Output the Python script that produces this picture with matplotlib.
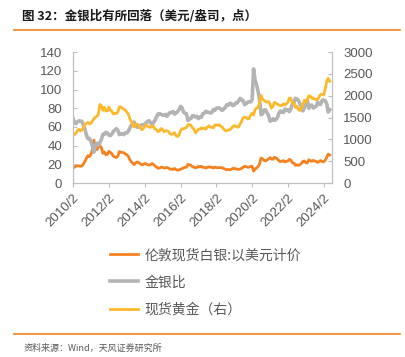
import matplotlib.pyplot as plt
import matplotlib as mpl
import matplotlib.dates as mdates
import pandas as pd

plt.rcParams["font.family"] = ["Liberation Sans", "Noto Sans CJK SC", "DejaVu Sans"]
cjk = ["Noto Sans CJK SC", "DejaVu Sans"]

# monthly readings, 2010/2 .. 2024/6
silver = [
    15.9, 17.1, 18.1, 18.4, 18.5, 18.0, 18.4, 20.6, 23.3, 26.7, 29.3,
    28.4, 30.7, 35.8, 46.0, 37.1, 35.8, 38.8, 40.3, 38.0, 31.9, 33.4, 30.4,
    30.9, 34.0, 32.9, 31.6, 28.7, 28.1, 27.4, 28.7, 33.7, 33.1, 32.7, 32.5,
    31.2, 30.3, 28.8, 25.4, 22.9, 21.4, 19.7, 21.8, 22.6, 21.9, 20.8, 19.6,
    19.9, 20.8, 20.7, 19.7, 19.3, 19.9, 21.0, 19.9, 18.4, 17.2, 15.9, 16.2,
    17.0, 16.9, 16.2, 16.3, 16.8, 16.0, 15.0, 14.8, 14.7, 15.7, 14.5, 14.0,
    14.0, 15.0, 15.4, 16.3, 16.9, 17.2, 20.0, 19.6, 19.2, 17.6, 17.2, 16.3,
    16.7, 17.9, 17.4, 18.0, 16.8, 16.9, 16.1, 16.9, 17.4, 17.1, 17.0, 16.1,
    17.1, 16.6, 16.5, 16.6, 16.5, 16.5, 15.6, 14.9, 14.3, 14.6, 14.3, 14.7,
    15.6, 15.8, 15.2, 15.0, 14.6, 15.0, 15.9, 17.0, 18.0, 17.6, 17.0, 17.0,
    18.0, 17.9, 12.8, 15.0, 16.3, 17.7, 20.6, 26.9, 25.9, 24.3, 23.8, 24.8,
    25.9, 27.3, 25.6, 25.6, 27.6, 27.0, 25.7, 23.9, 23.0, 23.4, 24.1, 22.6,
    23.4, 23.6, 25.5, 24.4, 21.8, 21.5, 19.1, 19.6, 19.0, 19.6, 21.1, 23.3,
    23.6, 21.9, 21.5, 25.0, 24.0, 23.3, 24.3, 23.6, 23.3, 22.1, 23.5, 24.1,
    22.9, 22.8, 24.5, 27.5, 31.0, 30.0,
]
ratio = [
    68.9, 65.2, 63.5, 65.5, 66.6, 66.3, 66.0, 61.7, 57.6, 51.3, 47.5,
    47.7, 44.7, 39.8, 33.0, 40.7, 42.7, 40.5, 43.6, 46.6, 52.2, 52.1, 54.3,
    53.6, 51.2, 50.8, 52.2, 55.2, 56.8, 58.2, 56.7, 51.8, 52.8, 52.6, 51.8,
    53.6, 53.7, 55.3, 58.5, 61.7, 62.8, 65.3, 61.8, 59.7, 60.1, 61.3, 62.3,
    62.5, 62.5, 64.5, 65.9, 66.7, 64.3, 62.4, 65.1, 67.3, 71.0, 74.0, 74.1,
    73.6, 72.6, 72.8, 73.5, 71.4, 73.8, 75.4, 75.5, 76.5, 73.7, 74.9, 76.3,
    78.4, 82.0, 80.9, 76.2, 74.6, 74.2, 66.9, 68.4, 69.1, 72.0, 71.9, 70.7,
    71.4, 68.9, 70.7, 70.4, 74.2, 74.6, 76.8, 75.9, 75.6, 74.9, 75.4, 78.6,
    77.8, 80.2, 80.3, 80.4, 79.0, 77.7, 79.4, 80.7, 83.8, 83.2, 85.4, 85.0,
    82.8, 83.5, 85.6, 85.7, 87.9, 90.6, 88.9, 88.2, 83.9, 84.9, 86.5, 87.1,
    86.7, 89.2, 122.0, 110.0, 105.3, 97.9, 89.7, 73.2, 74.2, 78.2, 78.4, 74.9,
    72.1, 66.2, 67.1, 68.8, 67.0, 67.9, 70.3, 74.7, 77.2, 75.9, 75.5, 79.2,
    77.6, 78.6, 76.4, 79.4, 84.8, 85.4, 90.7, 90.1, 88.5, 84.9, 81.8, 77.2,
    80.4, 84.7, 88.9, 80.0, 83.0, 83.4, 80.3, 81.3, 82.3, 86.7, 84.5, 84.2,
    88.8, 88.7, 88.2, 84.7, 76.0, 78.5,
]
gold = [
    1095, 1115, 1150, 1205, 1232, 1193, 1215, 1271, 1342, 1370, 1391,
    1356, 1372, 1424, 1474, 1510, 1529, 1572, 1800, 1772, 1665, 1739, 1652,
    1656, 1742, 1673, 1650, 1585, 1596, 1594, 1626, 1745, 1747, 1721, 1684,
    1671, 1627, 1593, 1487, 1414, 1343, 1286, 1347, 1349, 1316, 1275, 1222,
    1244, 1300, 1336, 1299, 1287, 1279, 1311, 1296, 1239, 1222, 1176, 1200,
    1251, 1227, 1179, 1198, 1199, 1181, 1131, 1117, 1125, 1157, 1086, 1068,
    1097, 1200, 1246, 1242, 1260, 1276, 1337, 1341, 1326, 1267, 1236, 1152,
    1192, 1234, 1231, 1267, 1246, 1260, 1236, 1283, 1315, 1280, 1282, 1265,
    1331, 1331, 1325, 1335, 1303, 1282, 1238, 1202, 1199, 1215, 1221, 1250,
    1291, 1320, 1301, 1286, 1284, 1359, 1413, 1500, 1510, 1495, 1471, 1480,
    1560, 1597, 1560, 1683, 1716, 1732, 1847, 2010, 1921, 1900, 1866, 1858,
    1867, 1808, 1718, 1760, 1850, 1834, 1807, 1785, 1775, 1777, 1820, 1790,
    1817, 1856, 1948, 1937, 1849, 1837, 1733, 1765, 1681, 1664, 1726, 1798,
    1898, 1855, 1912, 2000, 1992, 1943, 1951, 1918, 1918, 1916, 1985, 2030,
    2034, 2023, 2160, 2330, 2400, 2330,
]
dates = pd.date_range("2010-02-01", periods=len(gold), freq="MS")

c_silver = "#f5821f"
c_ratio = "#b4b4b4"
c_gold = "#fdb92c"
c_axis = "#bfbfbf"
c_text = "#595959"

fig = plt.figure(figsize=(4.06, 3.57), dpi=100)
ax = fig.add_axes([0.180, 0.487, 0.638, 0.367])
ax2 = ax.twinx()

l1, = ax.plot(dates, silver, color=c_silver, lw=2.0, label="伦敦现货白银:以美元计价")
l2, = ax.plot(dates, ratio, color=c_ratio, lw=2.6, label="金银比")
l3, = ax2.plot(dates, gold, color=c_gold, lw=2.0, label="现货黄金（右）")

ax.set_ylim(0, 140)
ax.set_yticks(range(0, 141, 20))
ax2.set_ylim(0, 3000)
ax2.set_yticks(range(0, 3001, 500))
ax.set_xlim(pd.Timestamp("2010-02-01"), pd.Timestamp("2024-07-20"))
ax.set_xticks(pd.date_range("2010-02-01", "2024-02-01", freq="24MS"))
ax.xaxis.set_major_formatter(mdates.DateFormatter("%Y/%-m"))

for a in (ax, ax2):
    for s in a.spines.values():
        s.set_color(c_axis)
    a.spines["top"].set_visible(False)
    a.tick_params(colors=c_axis, labelcolor=c_text, labelsize=9.5, length=3, width=0.8)
ax.tick_params(axis="y", direction="in", pad=8)
ax2.tick_params(axis="y", direction="in", pad=8)
ax.tick_params(axis="x", direction="out")
for lab in ax.get_xticklabels():
    lab.set_rotation(45)
    lab.set_ha("right")
    lab.set_rotation_mode("anchor")

fig.text(0.054, 0.955, "图 32：金银比有所回落（美元/盎司，点）", family=cjk,
         fontsize=9, fontweight="bold", color="#1a1a1a", va="center")
fig.add_artist(mpl.lines.Line2D([0.034, 0.985], [0.916, 0.916], color=c_silver, lw=1.2))
fig.add_artist(mpl.lines.Line2D([0.034, 0.985], [0.064, 0.064], color=c_silver, lw=1.2))
fig.text(0.057, 0.025, "资料来源：Wind，天风证券研究所", family=cjk,
         fontsize=6.5, color=c_text, va="center")

leg = fig.legend(handles=[l1, l2, l3], loc="upper left", bbox_to_anchor=(0.271, 0.305),
                 frameon=False, borderpad=0, borderaxespad=0, handlelength=2.0,
                 handletextpad=0.5, labelspacing=0.95, prop={"family": cjk, "size": 10})
for t in leg.get_texts():
    t.set_color(c_text)

fig.savefig("out.png", dpi=100)
